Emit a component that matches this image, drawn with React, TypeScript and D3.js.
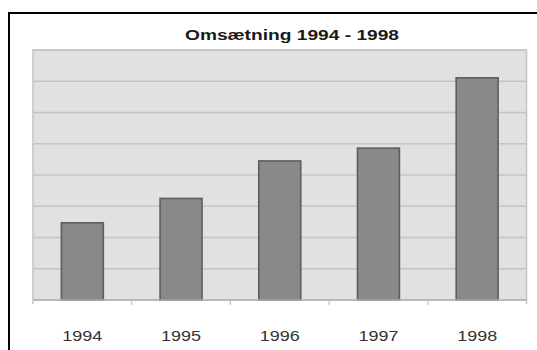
import React from "react";
import * as d3 from "d3";

const categories = ["1994", "1995", "1996", "1997", "1998"];
const values = [2.47, 3.25, 4.45, 4.86, 7.11];
const yTicks = [0, 1, 2, 3, 4, 5, 6, 7, 8];
const title = "Omsætning 1994 - 1998";

const W = 537;
const H = 350;
const plot = { left: 33, right: 526.5, top: 50, bottom: 300 };

export default function App() {
  const x = d3
    .scaleBand<string>()
    .domain(categories)
    .range([plot.left, plot.right])
    .paddingInner(0.575)
    .paddingOuter(0.2875);
  const band = d3.scaleBand<string>().domain(categories).range([plot.left, plot.right]);
  const y = d3.scaleLinear().domain([0, 8]).range([plot.bottom, plot.top]);
  const font = "Arial, 'Liberation Sans', sans-serif";

  return (
    <div style={{ position: "fixed", left: 0, top: 0, width: W, height: H, background: "#fff" }}>
      <svg width={W} height={H} style={{ display: "block" }}>
        <rect x={0} y={0} width={W} height={H} fill="#ffffff" />
        {/* outer frame */}
        <line x1={9} y1={13} x2={W} y2={13} stroke="#000" strokeWidth={2} />
        <line x1={9} y1={12} x2={9} y2={H} stroke="#000" strokeWidth={2} />
        {/* title */}
        <text
          x={292}
          y={39.5}
          textAnchor="middle"
          fontFamily={font}
          fontWeight="bold"
          fontSize={14}
          fill="#1a1a1a"
          textLength={214}
          lengthAdjust="spacingAndGlyphs"
        >
          {title}
        </text>
        {/* plot background */}
        <rect
          x={plot.left}
          y={plot.top}
          width={plot.right - plot.left}
          height={plot.bottom - plot.top}
          fill="#e1e1e1"
        />
        {/* gridlines */}
        {yTicks.slice(1).map((t) => (
          <line
            key={t}
            x1={plot.left}
            x2={plot.right}
            y1={y(t)}
            y2={y(t)}
            stroke="#c4c4c4"
            strokeWidth={1.6}
          />
        ))}
        {/* plot border */}
        <rect
          x={plot.left}
          y={plot.top}
          width={plot.right - plot.left}
          height={plot.bottom - plot.top}
          fill="none"
          stroke="#c6c6c6"
          strokeWidth={1.6}
        />
        {/* bars */}
        {categories.map((c, i) => (
          <rect
            key={c}
            x={x(c)!}
            y={y(values[i])}
            width={x.bandwidth()}
            height={y(0) - y(values[i])}
            fill="#898989"
            stroke="#5e5e5e"
            strokeWidth={1.6}
          />
        ))}
        {/* axis line and ticks */}
        <line x1={plot.left} x2={plot.right} y1={plot.bottom} y2={plot.bottom} stroke="#b0b0b0" strokeWidth={1.6} />
        {categories.slice(1).map((c) => (
          <line
            key={c}
            x1={band(c)!}
            x2={band(c)!}
            y1={plot.bottom}
            y2={plot.bottom + 5}
            stroke="#b8b8b8"
            strokeWidth={1}
          />
        ))}
        <line x1={plot.left} x2={plot.left} y1={plot.bottom} y2={plot.bottom + 4} stroke="#c6c6c6" strokeWidth={1.6} />
        <line x1={plot.right} x2={plot.right} y1={plot.bottom} y2={plot.bottom + 4} stroke="#c6c6c6" strokeWidth={1.6} />
        {/* category labels */}
        {categories.map((c) => (
          <text
            key={c}
            x={band(c)! + band.bandwidth() / 2}
            y={341}
            textAnchor="middle"
            fontFamily={font}
            fontSize={14}
            fill="#333"
            textLength={40}
            lengthAdjust="spacingAndGlyphs"
          >
            {c}
          </text>
        ))}
      </svg>
    </div>
  );
}
